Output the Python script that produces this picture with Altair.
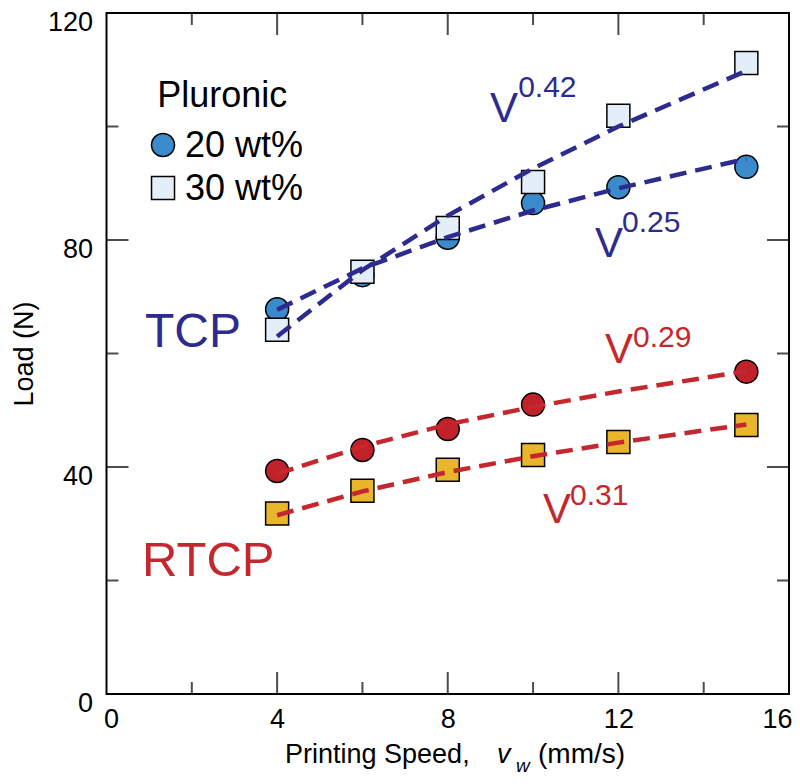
import altair as alt
import pandas as pd

FONT = "Liberation Sans, Arial, Helvetica, sans-serif"

# ---- measured data ----
speed = [4, 6, 8, 10, 12, 15]
tcp_20 = [67.8, 73.8, 80.4, 86.5, 89.3, 92.9]
tcp_30 = [64.2, 74.4, 82.1, 90.2, 101.9, 111.2]
rtcp_20_speed = [4, 6, 8, 10, 15]
rtcp_20 = [39.3, 43.0, 46.7, 51.0, 56.8]
rtcp_30 = [31.8, 35.8, 39.5, 42.1, 44.4, 47.4]

# ---- power-law fit lines ----
fit_speed = [4, 6, 8, 10, 12, 15]
fit_tcp_30 = [63.0, 74.7, 84.3, 92.6, 100.0, 109.8]   # V^0.42
fit_tcp_20 = [67.7, 75.0, 80.5, 85.2, 89.1, 94.3]     # V^0.25
fit_rtcp_20 = [38.8, 43.6, 47.5, 50.6, 53.3, 56.9]    # V^0.29
fit_rtcp_30 = [31.5, 35.7, 39.1, 41.9, 44.3, 47.5]    # V^0.31

# ---- axes ----
x_domain = [0, 16]
y_domain = [0, 120]
x_labels = [0, 4, 8, 12, 16]
y_labels = [0, 40, 80, 120]
x_ticks_major = [4, 8, 12]
x_ticks_minor = [2, 6, 10, 14]
y_ticks_major = [40, 80]
y_ticks_minor = [20, 60, 100]

# ---- colours ----
BLUE_LINE = "#2e2b8f"
RED_LINE = "#c4272d"
FILL_TCP20 = "#3b8bcc"
FILL_TCP30 = "#e3eef9"
FILL_RTCP20 = "#c1222a"
FILL_RTCP30 = "#e8b52b"

# ---- legend & annotations (data coordinates) ----
legend_marker_x = [1.325, 1.325]
legend_marker_y = [96.74, 89.16]
legend_marker_shape = ["circle", "square"]
legend_marker_fill = [FILL_TCP20, FILL_TCP30]

ann_text = ["Pluronic", "20 wt%", "30 wt%", "TCP", "RTCP",
            "V", "0.42", "V", "0.25", "V", "0.29", "V", "0.31",
            "Printing Speed,", "(mm/s)"]
ann_x = [1.19, 1.840, 1.840, 0.903, 0.832,
         8.99, 9.65, 11.45, 12.085, 11.687, 12.343, 10.233, 10.866,
         4.185, 10.116]
ann_y = [103.44, 94.63, 87.05, 61.15, 20.79,
         100.79, 105.2, 77.0, 81.4, 58.33, 61.15, 30.13, 33.30,
         -12.16, -12.16]
ann_size = [36, 36, 36, 48, 49,
            42, 30, 42, 30, 42, 30, 42, 30,
            27, 28]
ann_color = ["black", "black", "black", BLUE_LINE, RED_LINE,
             BLUE_LINE, BLUE_LINE, BLUE_LINE, BLUE_LINE,
             RED_LINE, RED_LINE, RED_LINE, RED_LINE,
             "black", "black"]

ital_text = ["v", "w"]
ital_x = [9.152, 9.60]
ital_y = [-12.16, -13.74]
ital_size = [27, 19]

# ---- build tables ----
rows = []
for s, v in zip(speed, tcp_20):
    rows.append(dict(x=s, y=v, shape="circle", fill=FILL_TCP20))
for s, v in zip(speed, tcp_30):
    rows.append(dict(x=s, y=v, shape="square", fill=FILL_TCP30))
for s, v in zip(rtcp_20_speed, rtcp_20):
    rows.append(dict(x=s, y=v, shape="circle", fill=FILL_RTCP20))
for s, v in zip(speed, rtcp_30):
    rows.append(dict(x=s, y=v, shape="square", fill=FILL_RTCP30))
for a, b, sh, f in zip(legend_marker_x, legend_marker_y, legend_marker_shape, legend_marker_fill):
    rows.append(dict(x=a, y=b, shape=sh, fill=f))
pts = pd.DataFrame(rows)

lrows = []
for name, vals, col in [("t30", fit_tcp_30, BLUE_LINE), ("t20", fit_tcp_20, BLUE_LINE),
                        ("r20", fit_rtcp_20, RED_LINE), ("r30", fit_rtcp_30, RED_LINE)]:
    for s, v in zip(fit_speed, vals):
        lrows.append(dict(x=s, y=v, fit=name, color=col))
lines = pd.DataFrame(lrows)

ann = pd.DataFrame(dict(x=ann_x, y=ann_y, text=ann_text, size=ann_size, color=ann_color))
ital = pd.DataFrame(dict(x=ital_x, y=ital_y, text=ital_text, size=ital_size))

xs = alt.Scale(domain=x_domain, nice=False, zero=False)
ys = alt.Scale(domain=y_domain, nice=False, zero=False)

x_axis = alt.Axis(values=x_labels, title=None, tickSize=0, domain=False, grid=False,
                  labelFont=FONT, labelFontSize=27, labelColor="black", labelPadding=12,
                  format="d", labelFlush=True, labelFlushOffset=3)
y_axis = alt.Axis(values=y_labels, title="Load (N)", tickSize=0, domain=False, grid=False,
                  labelFont=FONT, labelFontSize=27, labelColor="black", labelPadding=14,
                  labelOffset=9,
                  titleFont=FONT, titleFontSize=27, titleFontWeight="normal", titleColor="black",
                  titlePadding=9, format="d", labelFlush=False)


def X():
    return alt.X("x:Q", scale=xs, axis=x_axis)


def Y():
    return alt.Y("y:Q", scale=ys, axis=y_axis)


points = alt.Chart(pts).mark_point(filled=True, size=529, stroke="black",
                                   strokeWidth=1.5, opacity=1).encode(
    x=X(), y=Y(),
    shape=alt.Shape("shape:N", scale=None),
    fill=alt.Fill("fill:N", scale=None),
)

fit_lines = alt.Chart(lines).mark_line(strokeWidth=4.5, strokeDash=[17, 9]).encode(
    x=X(), y=Y(), detail="fit:N", color=alt.Color("color:N", scale=None),
)

texts = alt.Chart(ann).mark_text(align="left", baseline="alphabetic", font=FONT).encode(
    x=X(), y=Y(), text="text:N",
    size=alt.Size("size:Q", scale=None), color=alt.Color("color:N", scale=None),
)

itexts = alt.Chart(ital).mark_text(align="left", baseline="alphabetic", font=FONT,
                                   fontStyle="italic", color="black").encode(
    x=X(), y=Y(), text="text:N", size=alt.Size("size:Q", scale=None),
)


def tick_layer(vals, axis_pos, horizontal, length, offset_sign):
    if horizontal:
        df = pd.DataFrame(dict(y=vals, x=[axis_pos] * len(vals)))
        mk = alt.Chart(df).mark_tick(orient="horizontal", size=length, thickness=2,
                                     color="black", xOffset=offset_sign * length / 2)
    else:
        df = pd.DataFrame(dict(x=vals, y=[axis_pos] * len(vals)))
        mk = alt.Chart(df).mark_tick(orient="vertical", size=length, thickness=2,
                                     color="black", yOffset=offset_sign * length / 2)
    return mk.encode(x=X(), y=Y())


ticks = [
    tick_layer(x_ticks_major, y_domain[0], False, 22, -1),
    tick_layer(x_ticks_minor, y_domain[0], False, 12, -1),
    tick_layer(x_ticks_major, y_domain[1], False, 22, 1),
    tick_layer(x_ticks_minor, y_domain[1], False, 12, 1),
    tick_layer(y_ticks_major, x_domain[0], True, 22, 1),
    tick_layer(y_ticks_minor, x_domain[0], True, 12, 1),
    tick_layer(y_ticks_major, x_domain[1], True, 22, -1),
    tick_layer(y_ticks_minor, x_domain[1], True, 12, -1),
]

chart = alt.layer(points, fit_lines, *ticks, texts, itexts).properties(
    width=682.5, height=681,
    autosize=alt.AutoSizeParams(type="none"),
    padding={"left": 98.5, "top": 5, "right": 3, "bottom": 82},
    background="white",
).configure_view(stroke="black", strokeWidth=2)

chart.save("out.html", embed_options={"renderer": "svg", "actions": False})
